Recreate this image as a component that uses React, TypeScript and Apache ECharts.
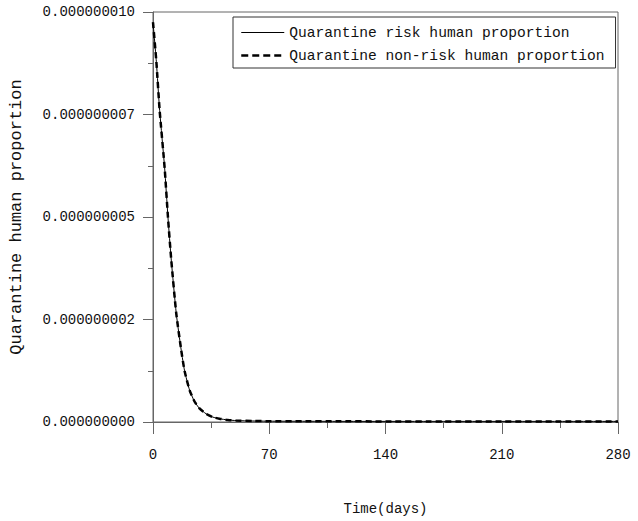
import React, { useEffect, useRef } from "react";
import * as echarts from "echarts";

const days = [0, 2, 4, 7, 9, 11, 14, 17, 19, 22, 25, 28, 32, 36, 40, 45, 50, 60, 70, 90, 110, 140, 175, 210, 245, 280];
const riskValues = [9.75, 8.8, 7.6, 6.2, 5.0, 3.95, 2.65, 1.75, 1.25, 0.78, 0.5, 0.33, 0.2, 0.12, 0.08, 0.05, 0.035, 0.025, 0.02, 0.018, 0.016, 0.015, 0.015, 0.015, 0.015, 0.015];
const nonRiskValues = [9.75, 8.8, 7.6, 6.2, 5.0, 3.95, 2.65, 1.75, 1.25, 0.78, 0.5, 0.33, 0.2, 0.12, 0.08, 0.05, 0.035, 0.025, 0.02, 0.018, 0.016, 0.015, 0.015, 0.015, 0.015, 0.015];
const seriesNames = ["Quarantine risk human proportion", "Quarantine non-risk human proportion"];
const yTickLabels = ["0.000000000", "0.000000002", "0.000000005", "0.000000007", "0.000000010"];
const xTickLabels = ["0", "70", "140", "210", "280"];
const SCALE = 1e-9;

const FONT = "'Liberation Mono', 'DejaVu Sans Mono', monospace";

export default function App() {
  const ref = useRef<HTMLDivElement>(null);
  useEffect(() => {
    if (!ref.current) return;
    const chart = echarts.init(ref.current, null, { renderer: "svg" });
    const axisColor = "#666";
    chart.setOption({
      animation: false,
      backgroundColor: "#fff",
      grid: {
        left: 153,
        right: 20,
        top: 12,
        bottom: 98,
        show: true,
        borderColor: axisColor,
        borderWidth: 1,
      },
      legend: {
        orient: "vertical",
        left: 233,
        top: 17,
        padding: [7, 11, 4, 7],
        itemGap: 6,
        itemWidth: 43,
        itemHeight: 14,
        borderColor: "#333",
        borderWidth: 1,
        backgroundColor: "#fff",
        itemStyle: { opacity: 0, borderWidth: 0 },
        textStyle: { fontFamily: FONT, fontSize: 14.6, color: "#111", lineHeight: 17 },
        data: [
          { name: seriesNames[0], lineStyle: { width: 1, color: "#000", type: "solid" } },
          { name: seriesNames[1], lineStyle: { width: 2.5, color: "#000", type: [7, 4] } },
        ],
      },
      xAxis: {
        type: "value",
        min: 0,
        max: 280,
        interval: 70,
        name: "Time(days)",
        nameLocation: "middle",
        nameGap: 80,
        nameTextStyle: { fontFamily: FONT, fontSize: 14, color: "#111" },
        axisLine: { show: true, lineStyle: { color: axisColor } },
        axisTick: { show: true, length: 12, lineStyle: { color: axisColor } },
        minorTick: { show: true, splitNumber: 2, length: 6, lineStyle: { color: axisColor } },
        splitLine: { show: false },
        axisLabel: {
          margin: 26,
          fontFamily: FONT,
          fontSize: 14,
          color: "#111",
          formatter: (v: number) => {
            const i = Math.round(v / 70);
            return xTickLabels[i] ?? String(v);
          },
        },
      },
      yAxis: {
        type: "value",
        min: 0,
        max: 10 * SCALE,
        interval: 2.5 * SCALE,
        name: "Quarantine human proportion",
        nameLocation: "middle",
        nameGap: 128,
        nameTextStyle: { fontFamily: FONT, fontSize: 17, color: "#111" },
        axisLine: { show: true, lineStyle: { color: axisColor } },
        axisTick: { show: true, length: 10, lineStyle: { color: axisColor } },
        minorTick: { show: true, splitNumber: 2, length: 5, lineStyle: { color: axisColor } },
        splitLine: { show: false },
        axisLabel: {
          margin: 18,
          fontFamily: FONT,
          fontSize: 14,
          color: "#111",
          formatter: (v: number) => {
            const i = Math.round(v / (2.5 * SCALE));
            return yTickLabels[i] ?? String(v);
          },
        },
      },
      series: [
        {
          name: seriesNames[0],
          type: "line",
          showSymbol: false,
          symbol: "none",
          smooth: 0.2,
          data: days.map((d, i) => [d, riskValues[i] * SCALE]),
          lineStyle: { color: "#000", width: 1, type: "solid" },
          itemStyle: { color: "#000" },
        },
        {
          name: seriesNames[1],
          type: "line",
          showSymbol: false,
          symbol: "none",
          smooth: 0.2,
          data: days.map((d, i) => [d, nonRiskValues[i] * SCALE]),
          lineStyle: { color: "#000", width: 2.5, type: [6, 4] },
          itemStyle: { color: "#000" },
        },
      ],
    });
    return () => chart.dispose();
  }, []);
  return <div ref={ref} style={{ position: "fixed", left: 0, top: 0, width: 638, height: 521 }} />;
}
